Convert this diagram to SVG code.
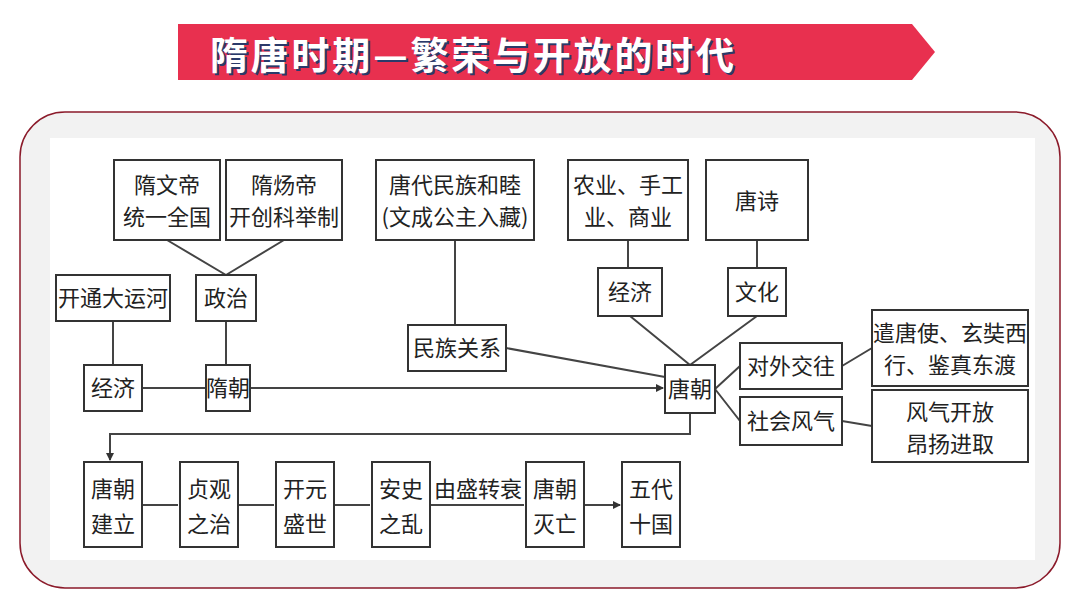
<svg xmlns="http://www.w3.org/2000/svg" width="1080" height="608" viewBox="0 0 1080 608">
<style>
.n{fill:#fff;stroke:#333;stroke-width:2}
.t{font-family:"Noto Sans CJK SC",sans-serif;font-size:22px;fill:#222;text-anchor:middle}
.c{stroke:#444;stroke-width:2;fill:none}
.h{font-family:"Noto Sans CJK SC",sans-serif;font-size:38px;font-weight:bold;letter-spacing:2px}
</style>
<defs><marker id="a" markerWidth="8" markerHeight="8" refX="7" refY="4" orient="auto" markerUnits="userSpaceOnUse"><path d="M0,0L8,4L0,8z" fill="#333"/></marker></defs>
<rect width="1080" height="608" fill="#fff"/>
<polygon points="178,24 912,24 935,52 912,80 178,80" fill="#e8304f"/>
<text class="h" x="212" y="71" fill="#2a3a6a" textLength="526">隋唐时期—繁荣与开放的时代</text>
<text class="h" x="210" y="69" fill="#fff" textLength="526">隋唐时期—繁荣与开放的时代</text>
<rect x="20" y="112" width="1040" height="476" rx="45" fill="#f2f2f2" stroke="#8b1a2a" stroke-width="1.5"/>
<rect x="50" y="138" width="985" height="422" fill="#fff"/>
<g id="connectors">
<path class="c" d="M167,240L226,275M284,240L226,275M113,321V365M226,321V365M142,388H206M455,240V325M506,348L665,377M628,240V268M757,240V268M630,316L690,365M757,316L690,365M715,389L740,366M715,389L740,421M842,366L872,348M842,421L872,426"/>
<path class="c" d="M250,388H663" marker-end="url(#a)"/>
<path class="c" d="M690,413V434H110V460" marker-end="url(#a)"/>
<path class="c" d="M142,505H178M238,505H274M334,505H370M430,505H524M584,505H620" marker-end="url(#a)"/>
</g>
<g id="n1"><rect class="n" x="114" y="160" width="106" height="80"/><text class="t" x="167" y="193">隋文帝</text><text class="t" x="167" y="225">统一全国</text></g>
<g id="n2"><rect class="n" x="226" y="160" width="116" height="80"/><text class="t" x="284" y="193">隋炀帝</text><text class="t" x="284" y="225">开创科举制</text></g>
<g id="n3"><rect class="n" x="56" y="275" width="114" height="46"/><text class="t" x="113" y="306">开通大运河</text></g>
<g id="n4"><rect class="n" x="196" y="275" width="60" height="46"/><text class="t" x="226" y="306">政治</text></g>
<g id="n5"><rect class="n" x="84" y="365" width="58" height="46"/><text class="t" x="113" y="396">经济</text></g>
<g id="n6"><rect class="n" x="206" y="365" width="44" height="46"/><text class="t" x="228" y="396">隋朝</text></g>
<g id="n7"><rect class="n" x="376" y="160" width="158" height="80"/><text class="t" x="455" y="193">唐代民族和睦</text><text class="t" x="455" y="225">(文成公主入藏)</text></g>
<g id="n8"><rect class="n" x="408" y="325" width="98" height="46"/><text class="t" x="457" y="356">民族关系</text></g>
<g id="n9"><rect class="n" x="568" y="160" width="120" height="80"/><text class="t" x="628" y="193">农业、手工</text><text class="t" x="628" y="225">业、商业</text></g>
<g id="n10"><rect class="n" x="706" y="160" width="102" height="80"/><text class="t" x="757" y="209">唐诗</text></g>
<g id="n11"><rect class="n" x="598" y="268" width="64" height="48"/><text class="t" x="630" y="300">经济</text></g>
<g id="n12"><rect class="n" x="728" y="268" width="58" height="48"/><text class="t" x="757" y="300">文化</text></g>
<g id="n13"><rect class="n" x="665" y="365" width="50" height="48"/><text class="t" x="690" y="397">唐朝</text></g>
<g id="n14"><rect class="n" x="740" y="343" width="102" height="46"/><text class="t" x="791" y="374">对外交往</text></g>
<g id="n15"><rect class="n" x="740" y="397" width="102" height="48"/><text class="t" x="791" y="429">社会风气</text></g>
<g id="n16"><rect class="n" x="872" y="310" width="156" height="76"/><text class="t" x="950" y="341">遣唐使、玄奘西</text><text class="t" x="950" y="373">行、鉴真东渡</text></g>
<g id="n17"><rect class="n" x="872" y="390" width="156" height="72"/><text class="t" x="950" y="420">风气开放</text><text class="t" x="950" y="452">昂扬进取</text></g>
<g id="n18"><rect class="n" x="84" y="462" width="58" height="85"/><text class="t" x="113" y="497">唐朝</text><text class="t" x="113" y="532">建立</text></g>
<g id="n19"><rect class="n" x="180" y="462" width="58" height="85"/><text class="t" x="209" y="497">贞观</text><text class="t" x="209" y="532">之治</text></g>
<g id="n20"><rect class="n" x="276" y="462" width="58" height="85"/><text class="t" x="305" y="497">开元</text><text class="t" x="305" y="532">盛世</text></g>
<g id="n21"><rect class="n" x="372" y="462" width="58" height="85"/><text class="t" x="401" y="497">安史</text><text class="t" x="401" y="532">之乱</text></g>
<g id="n22"><rect class="n" x="526" y="462" width="58" height="85"/><text class="t" x="555" y="497">唐朝</text><text class="t" x="555" y="532">灭亡</text></g>
<g id="n23"><rect class="n" x="622" y="462" width="58" height="85"/><text class="t" x="651" y="497">五代</text><text class="t" x="651" y="532">十国</text></g>
<text class="t" x="478" y="497">由盛转衰</text>
</svg>
